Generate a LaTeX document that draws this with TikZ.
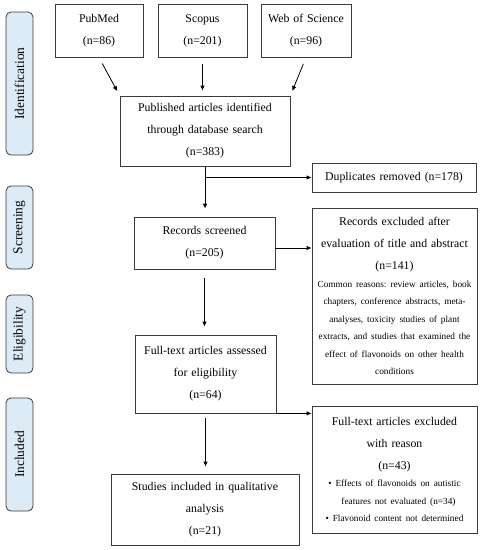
\documentclass[tikz,border=0pt]{standalone}
\usepackage{fontspec}
\setmainfont{Liberation Serif}
\usetikzlibrary{arrows.meta,calc}
\definecolor{stagefill}{HTML}{DDEBF7}
\definecolor{edgecol}{HTML}{3A3A3A}
\newcommand{\mainsz}{\fontsize{11.8}{22}\selectfont\frenchspacing}
\newcommand{\smallsz}{\fontsize{9.3}{17.5}\selectfont\frenchspacing}
\tikzset{
  box/.style={draw=edgecol, line width=0.8pt, align=center, inner sep=1pt, font=\mainsz},
  stage/.style={draw=edgecol, fill=stagefill, rounded corners=5pt, line width=0.8pt, rotate=90,
    minimum height=27pt, inner sep=0pt, font=\fontsize{13.4}{16}\selectfont},
  arr/.style={draw=black, line width=0.8pt, -{Latex[length=5pt,width=4.5pt]}}
}
\begin{document}
\begin{tikzpicture}[x=1pt,y=1pt]
\fill[white] (0,0) rectangle (483,-550);
\useasboundingbox (0,0) rectangle (483,-550);
% stages
\node[stage, minimum width=143pt] (s1) at (19.5,-83.5) {Identification};
\node[stage, minimum width=83pt] (s2) at (19.5,-227.5) {Screening};
\node[stage, minimum width=78pt] (s3) at (19.5,-334) {Eligibility};
\node[stage, minimum width=113pt] (s4) at (19.5,-454.5) {Included};
% boxes
\node[box, text width=86pt, minimum height=53pt] (pub) at (99,-30.5) {PubMed\\(n=86)};
\node[box, text width=87pt, minimum height=53pt] (sco) at (202.5,-30.5) {Scopus\\(n=201)};
\node[box, text width=88pt, minimum height=53pt] (wos) at (306,-30.5) {Web of Science\\(n=96)};
\node[box, text width=168pt, minimum height=70pt] (db) at (205,-131) {Published articles identified\\through database search\\(n=383)};
\node[box, text width=162pt, minimum height=29pt] (dup) at (394,-177.5) {Duplicates removed (n=178)};
\node[box, text width=139pt, minimum height=52pt] (scr) at (204.5,-243) {Records screened\\(n=205)};
\node[box, text width=163pt, minimum height=176pt] (exc1) at (394.5,-296) {Records excluded after\\evaluation of title and abstract\\(n=141)\par
  \smallsz Common reasons: review articles, book\\chapters, conference abstracts, meta-\\analyses, toxicity studies of plant\\extracts, and studies that examined the\\effect of flavonoids on other health\\conditions\par};
\node[box, text width=139pt, minimum height=78pt] (ft) at (205.5,-374) {Full-text articles assessed\\for eligibility\\(n=64)};
\node[box, text width=163pt, minimum height=127pt] (exc2) at (394.5,-469.5) {Full-text articles excluded\\with reason\\(n=43)\par
  \smallsz \textbullet\ Effects of flavonoids on autistic\\\hspace*{8pt}features not evaluated (n=34)\\\textbullet\ Flavonoid content not determined\par};
\node[box, text width=186pt, minimum height=71pt] (inc) at (205,-509.5) {Studies included in qualitative\\analysis\\(n=21)};
% connectors
\draw[arr, shorten <=7pt, shorten >=5pt] (pub.south) -- (db.north west);
\draw[arr, shorten <=7pt, shorten >=5pt] (sco.south) -- (sco.south |- db.north);
\draw[arr, shorten <=7pt, shorten >=5pt] (wos.south) -- (db.north east);
\draw[arr, shorten >=8pt] (db.south) -- (db.south |- scr.north);
\coordinate (j1) at (db.south |- dup.west);
\draw[arr] (j1) -- (dup.west);
\coordinate (j2) at ([yshift=-5pt]scr.east);
\draw[arr] (j2) -- (j2 -| exc1.west);
\draw[arr, shorten <=9pt, shorten >=8pt] (scr.south) -- (scr.south |- ft.north);
\draw[arr] (ft.south east) -- (ft.south east -| exc2.west);
\draw[arr, shorten <=5pt, shorten >=7pt] (ft.south) -- (ft.south |- inc.north);
\end{tikzpicture}
\end{document}
